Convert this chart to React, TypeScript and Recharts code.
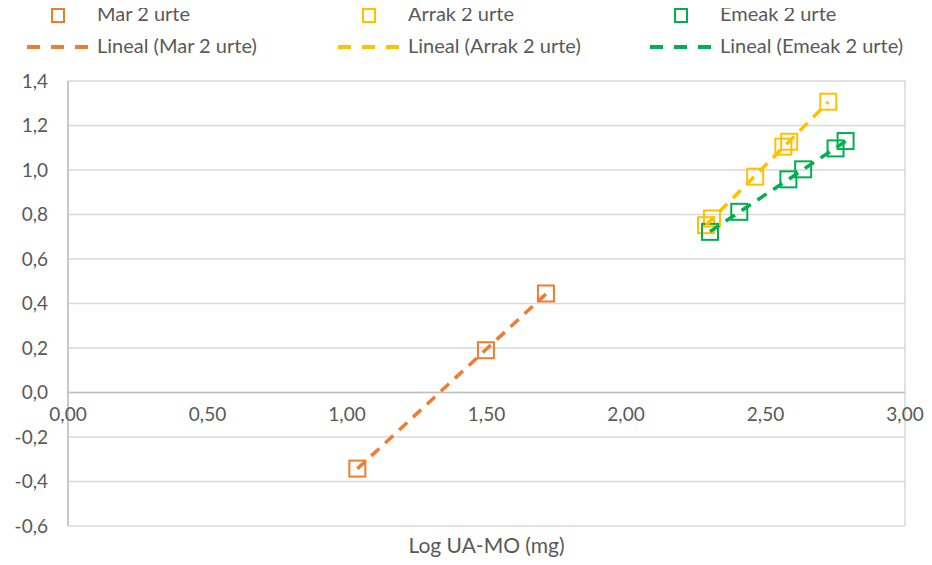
import React from 'react';
import {
  ScatterChart,
  Scatter,
  XAxis,
  YAxis,
  CartesianGrid,
  ReferenceLine,
  ReferenceDot,
  Legend,
} from 'recharts';

// Log UA-MO (x) vs response (y) for each group
const marX = [1.037, 1.498, 1.713];
const marY = [-0.342, 0.19, 0.445];

const arrakX = [2.287, 2.308, 2.463, 2.564, 2.585, 2.725];
const arrakY = [0.752, 0.782, 0.97, 1.105, 1.127, 1.307];

const emeakX = [2.301, 2.406, 2.582, 2.635, 2.751, 2.787];
const emeakY = [0.722, 0.812, 0.958, 1.003, 1.097, 1.13];

const X_TICKS = [0, 0.5, 1, 1.5, 2, 2.5, 3];
const Y_TICKS = [-0.6, -0.4, -0.2, 0, 0.2, 0.4, 0.6, 0.8, 1, 1.2, 1.4];

const SERIES = [
  { name: 'Mar 2 urte', xs: marX, ys: marY, color: '#ED7D31' },
  { name: 'Arrak 2 urte', xs: arrakX, ys: arrakY, color: '#FFC000' },
  { name: 'Emeak 2 urte', xs: emeakX, ys: emeakY, color: '#00B050' },
];

const FONT = 'Lato, "Open Sans", sans-serif';
const TEXT = '#595959';

const toPoints = (xs: number[], ys: number[]) => xs.map((x, i) => ({ x, y: ys[i] }));

// least-squares line across the data's x range (Excel "Lineal" trendline)
const trend = (xs: number[], ys: number[]) => {
  const n = xs.length;
  const mx = xs.reduce((a, b) => a + b, 0) / n;
  const my = ys.reduce((a, b) => a + b, 0) / n;
  let sxy = 0;
  let sxx = 0;
  xs.forEach((x, i) => {
    sxy += (x - mx) * (ys[i] - my);
    sxx += (x - mx) * (x - mx);
  });
  const b = sxy / sxx;
  const a = my - b * mx;
  const lo = Math.min(...xs);
  const hi = Math.max(...xs);
  return [
    { x: lo, y: a + b * lo },
    { x: hi, y: a + b * hi },
  ];
};

const comma = (v: number, d: number) => v.toFixed(d).replace('.', ',');

const SquareMark = (color: string) => (props: any) => {
  const { cx, cy } = props;
  if (cx == null || cy == null) return <g />;
  return (
    <rect x={cx - 8} y={cy - 8} width={16} height={16} fill="none" stroke={color} strokeWidth={2} />
  );
};

const LegendBox = () => (
  <div style={{ fontFamily: FONT, fontSize: 20, color: TEXT, position: 'relative', width: 932, height: 64 }}>
    {SERIES.map((s, i) => {
      const left = [27, 338, 650][i];
      return (
        <React.Fragment key={s.name}>
          <div style={{ position: 'absolute', left: left + 24, top: 8, width: 10, height: 11, border: `2px solid ${s.color}` }} />
          <div style={{ position: 'absolute', left: left + 70, top: 1, whiteSpace: 'nowrap' }}>{s.name}</div>
          <svg style={{ position: 'absolute', left, top: 44 }} width={62} height={6}>
            <line x1={0} y1={3} x2={62} y2={3} stroke={s.color} strokeWidth={4} strokeDasharray="13 11" />
          </svg>
          <div style={{ position: 'absolute', left: left + 70, top: 33, whiteSpace: 'nowrap' }}>
            Lineal ({s.name})
          </div>
        </React.Fragment>
      );
    })}
  </div>
);

export default function App() {
  return (
    <div style={{ position: 'relative', width: 932, height: 565, margin: -8, background: '#fff' }}>
      <ScatterChart width={932} height={565} margin={{ top: 81, right: 27, bottom: 0, left: 0 }}>
        <CartesianGrid stroke="#d9d9d9" strokeWidth={1.5} />
        <XAxis
          type="number"
          dataKey="x"
          domain={[0, 3]}
          ticks={X_TICKS}
          tick={false}
          tickLine={false}
          axisLine={false}
          height={39}
          label={{ value: 'Log UA-MO (mg)', position: 'insideBottom', offset: 12, fill: TEXT, fontSize: 21, fontFamily: FONT }}
        />
        <YAxis
          type="number"
          dataKey="y"
          domain={[-0.6, 1.4]}
          ticks={Y_TICKS}
          width={68}
          tickLine={false}
          axisLine={{ stroke: '#bfbfbf', strokeWidth: 1.5 }}
          tickMargin={14}
          tickFormatter={(v: number) => comma(v, 1)}
          tick={{ fill: TEXT, fontSize: 19, fontFamily: FONT }}
        />
        <ReferenceLine y={0} stroke="#bfbfbf" strokeWidth={1.5} />
        {X_TICKS.map((t) => (
          <ReferenceDot
            key={t}
            x={t}
            y={0}
            r={0}
            fill="none"
            stroke="none"
            label={{ value: comma(t, 2), position: 'bottom', offset: 15, fill: TEXT, fontSize: 19, fontFamily: FONT }}
          />
        ))}
        {SERIES.map((s) => (
          <Scatter
            key={s.name}
            name={s.name}
            data={toPoints(s.xs, s.ys)}
            shape={SquareMark(s.color)}
            isAnimationActive={false}
          />
        ))}
        {SERIES.map((s) => (
          <Scatter
            key={'trend-' + s.name}
            name={'Lineal (' + s.name + ')'}
            data={trend(s.xs, s.ys)}
            line={{ stroke: s.color, strokeWidth: 3.5, strokeDasharray: '11 8' }}
            shape={() => <g />}
            isAnimationActive={false}
          />
        ))}
        <Legend
          verticalAlign="middle"
          align="center"
          layout="horizontal"
          wrapperStyle={{ top: 0, left: 0, width: 932 }}
          content={() => <LegendBox />}
        />
      </ScatterChart>
    </div>
  );
}
